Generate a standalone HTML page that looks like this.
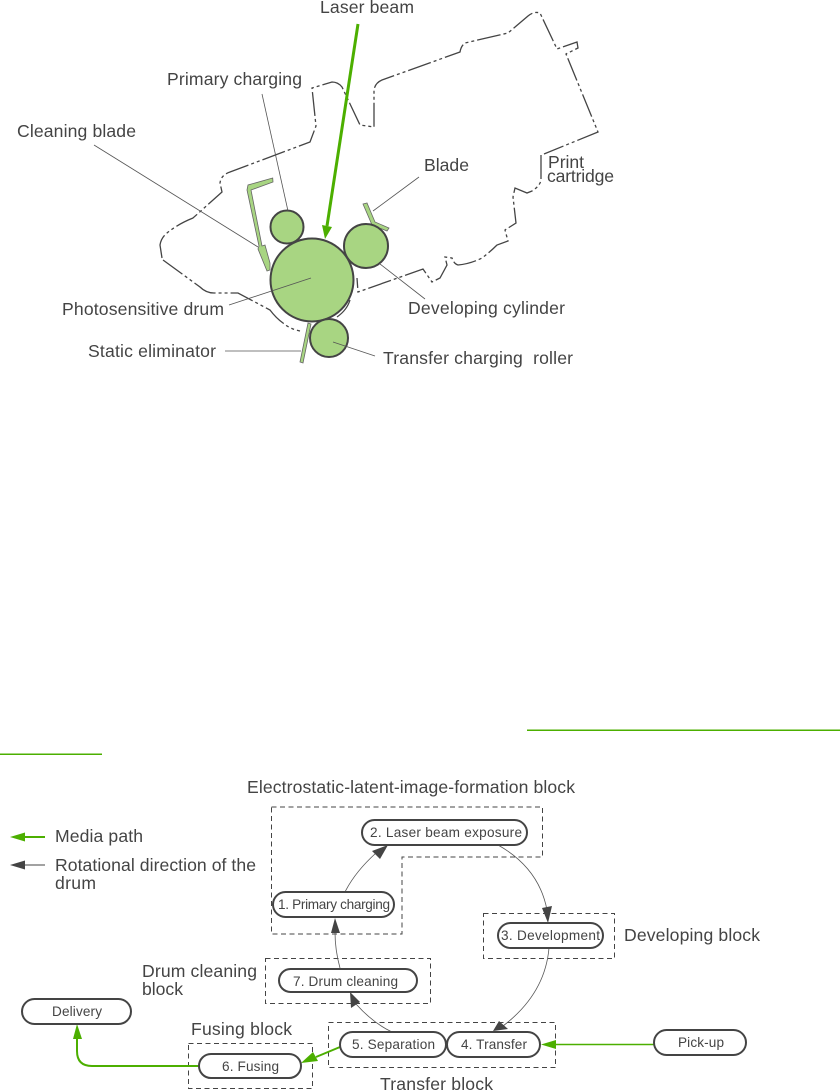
<!DOCTYPE html>
<html><head><meta charset="utf-8"><style>
html,body{margin:0;padding:0;background:#fff}
svg{display:block}
text{font-family:"Liberation Sans",sans-serif;fill:#444}
.l{font-size:17.600px}
.p{font-size:13.600px}
.ol{fill:none;stroke:#444;stroke-width:1.3;stroke-dasharray:24 3 3 3 3 3}
.g{fill:#a8d582;stroke:#444;stroke-width:2}
.bl{fill:#a8d582;stroke:#666;stroke-width:.8}
.lead{fill:none;stroke:#555;stroke-width:.8}
.box{fill:none;stroke:#444;stroke-width:1;stroke-dasharray:5 3.5}
.pill{fill:#fff;stroke:#444;stroke-width:2}
.c{fill:none;stroke:#555;stroke-width:.8}
</style></head><body>
<svg width="840" height="1091" viewBox="0 0 840 1091" xmlns="http://www.w3.org/2000/svg">
<path class="ol" d="M163 260L200 287Q206 293 214 293L238 293L270 310Q276 318 283 323Q290 329 300 331"/>
<path class="ol" d="M162 258L160 245Q161 238 167 233Q178 224 193 218L222 192L220 183Q221 175 230 172L310 142L316 126L312 88L332 82Q338 82 342 87L360 125L374 127L374 90Q375 83 382 80L460 52Q461 46 465 43L508 33L528 16Q534 11 540 13L557 49L577 42L578 48L566 54L598 132L544 154"/>
<path class="ol" d="M541 155L541 180Q540 186 532 191L527 193L515 188L513 197L516 223L505 230L508 241L497 245Q490 252 482 258Q470 264 458 265Q454 264 452 258L445 257L447 265L440 278L432 282L423 269L358 292L357 278"/>
<path class="ol" d="M350 300Q347 310 337 317"/>

<polygon class="bl" points="272.7,178 248,185 247,190 259,246 258,249 267,271 270,270 270,263 265,245 262,246 251,190 273,182"/>
<polygon class="bl" points="363,204 367,203 375,222 389,228 387,231 372,225"/>
<polygon class="bl" points="308,323 311,324 303,363 300,362"/>

<circle class="g" cx="287" cy="227" r="16.500"/>
<circle class="g" cx="366" cy="246" r="22"/>
<circle class="g" cx="312" cy="280" r="41.500"/>
<circle class="g" cx="329" cy="338" r="19"/>

<path d="M358 24L327 226" stroke="#4caf00" stroke-width="3" fill="none"/>
<polygon points="322,225 332,227 325,239" fill="#4caf00"/>

<path class="lead" d="M262 94L288 211"/>
<path class="lead" d="M94 145L258 247"/>
<path class="lead" d="M419 177L373 211"/>
<path class="lead" d="M311 278L229 305"/>
<path class="lead" d="M380 264L425 299"/>
<path class="lead" d="M225 351L301 351"/>
<path class="lead" d="M333 342L375 356"/>

<text class="l" x="320" y="13" textLength="94">Laser beam</text>
<text class="l" x="167" y="85" textLength="135">Primary charging</text>
<text class="l" x="17" y="137" textLength="119">Cleaning blade</text>
<text class="l" x="424" y="171" textLength="45">Blade</text>
<text class="l" x="548" y="168" textLength="36">Print</text>
<text class="l" x="547" y="182" textLength="67">cartridge</text>
<text class="l" x="62" y="315" textLength="162">Photosensitive drum</text>
<text class="l" x="408" y="314" textLength="157">Developing cylinder</text>
<text class="l" x="88" y="357" textLength="128">Static eliminator</text>
<text class="l" x="383" y="364" textLength="190" xml:space="preserve">Transfer charging  roller</text>

<rect x="527" y="729.500" width="313" height="1.500" fill="#4caf00"/>
<rect x="0" y="753.500" width="102" height="1.500" fill="#4caf00"/>

<text class="l" x="247" y="793" textLength="328">Electrostatic-latent-image-formation block</text>
<path class="box" d="M271.500 807H542.500V857H402V934H271.500Z"/>
<rect class="box" x="483.500" y="913.500" width="131" height="45"/>
<rect class="box" x="265.500" y="958.500" width="165" height="45"/>
<rect class="box" x="328.500" y="1022.500" width="227" height="45"/>
<rect class="box" x="188.500" y="1043.500" width="124" height="45"/>

<path d="M498 845Q539 868 547 910" class="c"/>
<polygon points="542,908 552,906 548,923" fill="#444"/>
<path d="M549 948Q545 994 503 1026" class="c"/>
<polygon points="499,1021 508,1029 493,1031" fill="#444"/>
<path d="M392 1032Q373 1023 356 1004" class="c"/>
<polygon points="351,1008 360,1002 350,992" fill="#444"/>
<path d="M340 968Q335 950 335 932" class="c"/>
<polygon points="331,933 340,933 335,918" fill="#444"/>
<path d="M345 892Q355 872 376 853" class="c"/>
<polygon points="372,851 380,859 388,845" fill="#444"/>

<path d="M654 1044.500H556" stroke="#4caf00" stroke-width="1.500" fill="none"/>
<polygon points="541,1044.500 556,1040 556,1049" fill="#4caf00"/>
<path d="M340 1047L316 1057" stroke="#4caf00" stroke-width="2" fill="none"/>
<polygon points="301,1063 313,1052 318,1061" fill="#4caf00"/>
<path d="M199 1066H92Q77 1066 77 1051V1038" stroke="#4caf00" stroke-width="2" fill="none"/>
<polygon points="77,1024 73,1039 82,1039" fill="#4caf00"/>

<rect class="pill" x="362" y="820" width="165" height="25" rx="12.500"/>
<rect class="pill" x="273" y="892" width="121" height="25" rx="12.500"/>
<rect class="pill" x="498" y="923" width="105" height="25" rx="12.500"/>
<rect class="pill" x="279" y="969" width="138" height="23" rx="11.500"/>
<rect class="pill" x="22" y="999" width="109" height="25" rx="12.500"/>
<rect class="pill" x="340" y="1032" width="106" height="25" rx="12.500"/>
<rect class="pill" x="447" y="1032" width="93" height="25" rx="12.500"/>
<rect class="pill" x="199" y="1054" width="102" height="24" rx="12"/>
<rect class="pill" x="654" y="1030" width="92" height="25" rx="12.500"/>

<text class="p" x="370" y="837" textLength="152">2. Laser beam exposure</text>
<text class="p" x="278" y="909" textLength="112">1. Primary charging</text>
<text class="p" x="501" y="940" textLength="99">3. Development</text>
<text class="p" x="293" y="986" textLength="105">7. Drum cleaning</text>
<text class="p" x="52" y="1016" textLength="50">Delivery</text>
<text class="p" x="352" y="1049" textLength="83">5. Separation</text>
<text class="p" x="461" y="1049" textLength="66">4. Transfer</text>
<text class="p" x="222" y="1071" textLength="57">6. Fusing</text>
<text class="p" x="678" y="1047" textLength="46">Pick-up</text>

<text class="l" x="624" y="941" textLength="136">Developing block</text>
<text class="l" x="142" y="977" textLength="115">Drum cleaning</text>
<text class="l" x="142" y="995" textLength="41">block</text>
<text class="l" x="191" y="1035" textLength="101">Fusing block</text>
<text class="l" x="380" y="1090" textLength="113">Transfer block</text>

<path d="M45 837H24" stroke="#4caf00" stroke-width="2" fill="none"/>
<polygon points="10,837 25,832.500 25,841.500" fill="#4caf00"/>
<path d="M45 865H24" stroke="#444" stroke-width="1" fill="none"/>
<polygon points="10,865 25,860.500 25,869.500" fill="#444"/>
<text class="l" x="55" y="842" textLength="88">Media path</text>
<text class="l" x="55" y="871" textLength="201">Rotational direction of the</text>
<text class="l" x="55" y="889" textLength="41">drum</text>
</svg>
</body></html>
